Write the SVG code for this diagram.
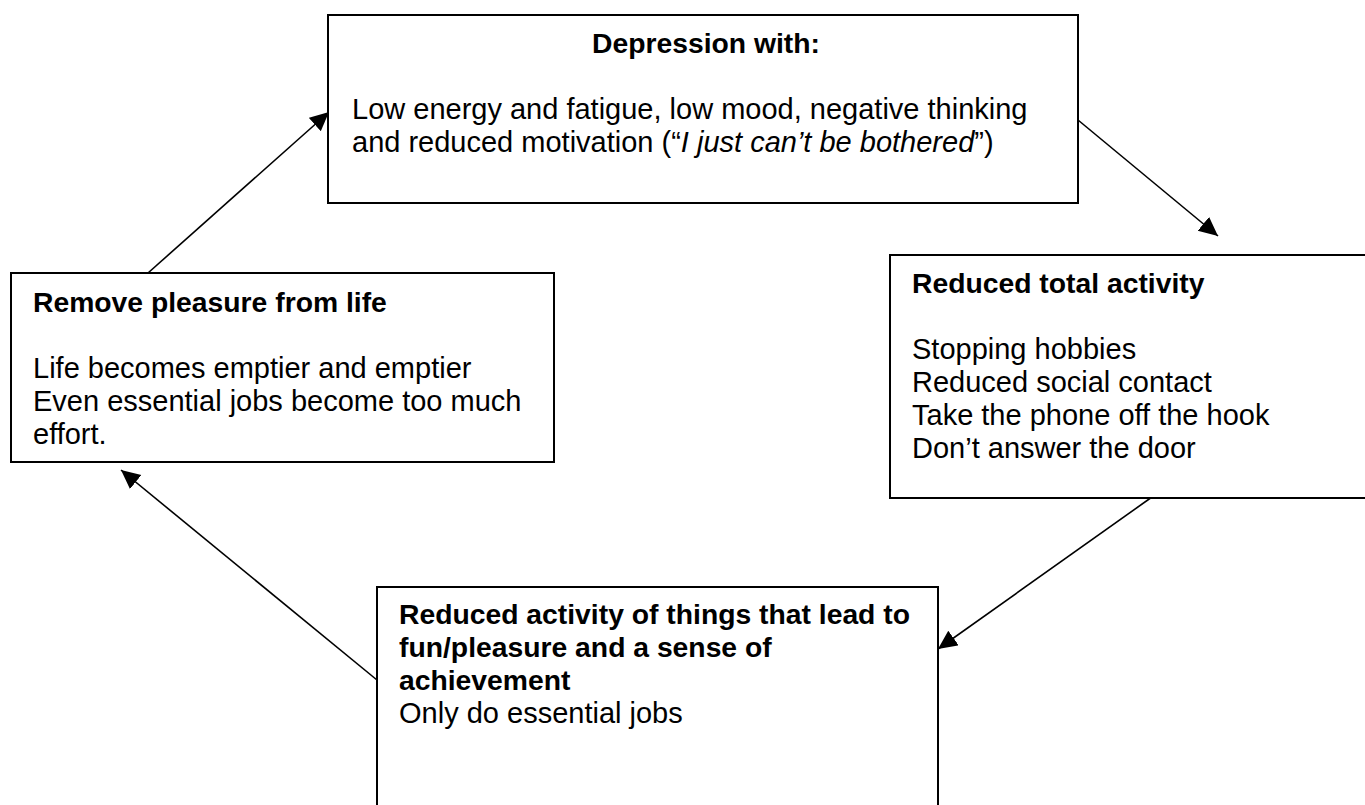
<svg xmlns="http://www.w3.org/2000/svg" width="1365" height="805" viewBox="0 0 1365 805">
<style>
.box{fill:#fff;stroke:#000;stroke-width:2}
.t{font-family:"Liberation Sans",Arial,sans-serif;font-size:29px;fill:#000}
.b{font-weight:bold;font-size:28.3px}
.i{font-style:italic}
.c{stroke:#000;stroke-width:1.6;fill:none;marker-end:url(#ah)}
</style>
<defs>
<marker id="ah" markerUnits="userSpaceOnUse" markerWidth="22" markerHeight="20" refX="19" refY="9" orient="auto">
<path d="M0,0 L19,9 L0,18 z" fill="#000"/>
</marker>
</defs>
<rect width="1365" height="805" fill="#fff"/>
<g id="connectors">
<line class="c" x1="148" y1="273" x2="329" y2="112"/>
<line class="c" x1="1078" y1="120" x2="1218" y2="236"/>
<line class="c" x1="1152" y1="497" x2="938" y2="649"/>
<line class="c" x1="377" y1="680" x2="121" y2="470"/>
</g>
<g id="depression">
<rect class="box" x="328" y="15" width="750" height="188"/>
<text class="t b" x="706" y="53" text-anchor="middle">Depression with:</text>
<text class="t" x="352" y="119">Low energy and fatigue, low mood, negative thinking</text>
<text class="t" x="352" y="152">and reduced motivation (“<tspan class="i">I just can’t be bothered</tspan>”)</text>
</g>
<g id="reduced-total">
<rect class="box" x="890" y="255" width="480" height="243"/>
<text class="t b" x="912" y="293">Reduced total activity</text>
<text class="t" x="912" y="359">Stopping hobbies</text>
<text class="t" x="912" y="392">Reduced social contact</text>
<text class="t" x="912" y="425">Take the phone off the hook</text>
<text class="t" x="912" y="458">Don’t answer the door</text>
</g>
<g id="reduced-fun">
<rect class="box" x="377" y="587" width="561" height="240"/>
<text class="t b" x="399" y="624">Reduced activity of things that lead to</text>
<text class="t b" x="399" y="657">fun/pleasure and a sense of</text>
<text class="t b" x="399" y="690">achievement</text>
<text class="t" x="399" y="723">Only do essential jobs</text>
</g>
<g id="remove-pleasure">
<rect class="box" x="11" y="273" width="543" height="189"/>
<text class="t b" x="33" y="312">Remove pleasure from life</text>
<text class="t" x="33" y="378">Life becomes emptier and emptier</text>
<text class="t" x="33" y="411">Even essential jobs become too much</text>
<text class="t" x="33" y="444">effort.</text>
</g>
</svg>
